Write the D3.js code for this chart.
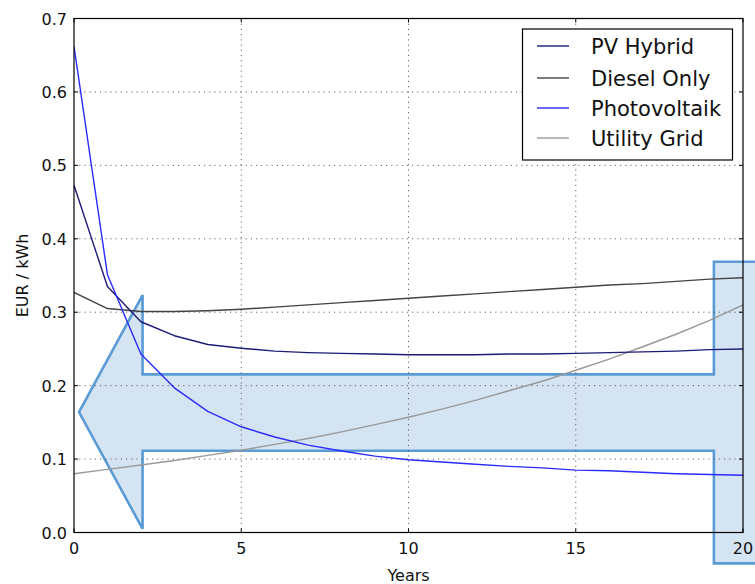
<!DOCTYPE html>
<html><head><meta charset="utf-8">
<script src="https://cdn.jsdelivr.net/npm/d3@7"></script>
<style>body{margin:0;background:#fff}svg{display:block}text{font-family:"DejaVu Sans",sans-serif}</style>
</head><body>
<svg id="c" width="755" height="584"></svg>
<script>
const years = [0,1,2,3,4,5,6,7,8,9,10,11,12,13,14,15,16,17,18,19,20];
const pvHybrid = [0.473,0.335,0.287,0.268,0.256,0.251,0.247,0.245,0.244,0.243,0.242,0.242,0.242,0.243,0.243,0.244,0.245,0.246,0.247,0.249,0.250];
const dieselOnly = [0.327,0.305,0.301,0.301,0.302,0.304,0.307,0.310,0.313,0.316,0.319,0.322,0.325,0.328,0.331,0.334,0.337,0.339,0.342,0.345,0.347];
const photovoltaik = [0.662,0.351,0.243,0.197,0.165,0.144,0.130,0.119,0.111,0.104,0.099,0.096,0.093,0.090,0.088,0.085,0.084,0.082,0.080,0.079,0.078];
const utilityGrid = [0.080,0.086,0.092,0.098,0.105,0.112,0.120,0.128,0.137,0.147,0.157,0.168,0.180,0.193,0.206,0.221,0.236,0.253,0.270,0.289,0.310];
const seriesNames = ["PV Hybrid","Diesel Only","Photovoltaik","Utility Grid"];
const seriesColors = ["#1c1c78","#444444","#2a2aff","#999999"];
const xTicks = [0,5,10,15,20];
const yTicks = [0.0,0.1,0.2,0.3,0.4,0.5,0.6,0.7];
// annotation arrow outline (data coordinates)
const arrowX = [0.15,2.05,2.05,19.13,19.13,21.5,21.5,19.13,19.13,2.05,2.05];
const arrowY = [0.164,0.3234,0.2154,0.2154,0.3688,0.3688,-0.042,-0.042,0.1114,0.1114,0.005];

const svg = d3.select("#c");
const L=74, R=743, T=18.5, B=532.5;
const x = d3.scaleLinear().domain([0,20]).range([L,R]);
const y = d3.scaleLinear().domain([0,0.7]).range([B,T]);

// clip
svg.append("defs").append("clipPath").attr("id","pc").append("rect")
  .attr("x",L).attr("y",T).attr("width",R-L).attr("height",B-T);

// arrow
const apts = arrowX.map((v,i)=>[x(v),y(arrowY[i])]);
svg.append("path").attr("d", d3.line()(apts)+"Z")
  .attr("fill","#d5e4f3").attr("stroke","#5b9bd5").attr("stroke-width",2.6)
  .attr("stroke-linejoin","miter");

// grid
const g = svg.append("g");
xTicks.slice(1,-1).forEach(t=>g.append("line").attr("x1",x(t)).attr("x2",x(t)).attr("y1",T).attr("y2",B)
  .attr("stroke","#555").attr("stroke-width",0.9).attr("stroke-dasharray","1.2,4"));
yTicks.slice(1,-1).forEach(t=>g.append("line").attr("y1",y(t)).attr("y2",y(t)).attr("x1",L).attr("x2",R)
  .attr("stroke","#555").attr("stroke-width",0.9).attr("stroke-dasharray","1.2,4"));

// lines
const data = [pvHybrid, dieselOnly, photovoltaik, utilityGrid];
const line = d3.line().x((d,i)=>x(years[i])).y(d=>y(d));
const lg = svg.append("g").attr("clip-path","url(#pc)");
[3,1,0,2].forEach(k=>{
  lg.append("path").attr("d",line(data[k])).attr("fill","none")
    .attr("stroke",seriesColors[k]).attr("stroke-width",1.4).attr("stroke-linejoin","round");
});

// spines
svg.append("rect").attr("x",L).attr("y",T).attr("width",R-L).attr("height",B-T)
  .attr("fill","none").attr("stroke","#000").attr("stroke-width",1.2);

// ticks (inward, both sides)
const tk = svg.append("g").attr("stroke","#000").attr("stroke-width",1);
xTicks.forEach(t=>{
  tk.append("line").attr("x1",x(t)).attr("x2",x(t)).attr("y1",B).attr("y2",B-4);
  tk.append("line").attr("x1",x(t)).attr("x2",x(t)).attr("y1",T).attr("y2",T+4);
});
yTicks.forEach(t=>{
  tk.append("line").attr("y1",y(t)).attr("y2",y(t)).attr("x1",L).attr("x2",L+4);
  tk.append("line").attr("y1",y(t)).attr("y2",y(t)).attr("x1",R).attr("x2",R-4);
});

// tick labels
xTicks.forEach(t=>svg.append("text").attr("x",x(t)).attr("y",554).attr("text-anchor","middle")
  .attr("font-size",16).attr("fill","#111").text(d3.format("d")(t)));
yTicks.forEach(t=>svg.append("text").attr("x",67).attr("y",y(t)+6).attr("text-anchor","end")
  .attr("font-size",16).attr("fill","#111").text(d3.format(".1f")(t)));

// axis labels
svg.append("text").attr("x",(L+R)/2).attr("y",581).attr("text-anchor","middle")
  .attr("font-size",16).attr("fill","#111").text("Years");
svg.append("text").attr("transform",`translate(28,${(T+B)/2}) rotate(-90)`).attr("text-anchor","middle")
  .attr("font-size",16).attr("fill","#111").text("EUR / kWh");

// legend
const leg = svg.append("g");
leg.append("rect").attr("x",522.5).attr("y",29).attr("width",210).attr("height",131)
  .attr("fill","#fff").attr("stroke","#000").attr("stroke-width",1.2);
const rows = [46,78,108,138];
seriesNames.forEach((n,i)=>{
  leg.append("line").attr("x1",537).attr("x2",569).attr("y1",rows[i]).attr("y2",rows[i])
    .attr("stroke",seriesColors[i]).attr("stroke-width",1.4);
  leg.append("text").attr("x",591).attr("y",rows[i]+7.5).attr("font-size",21).attr("fill","#111").text(n);
});
</script>
</body></html>
